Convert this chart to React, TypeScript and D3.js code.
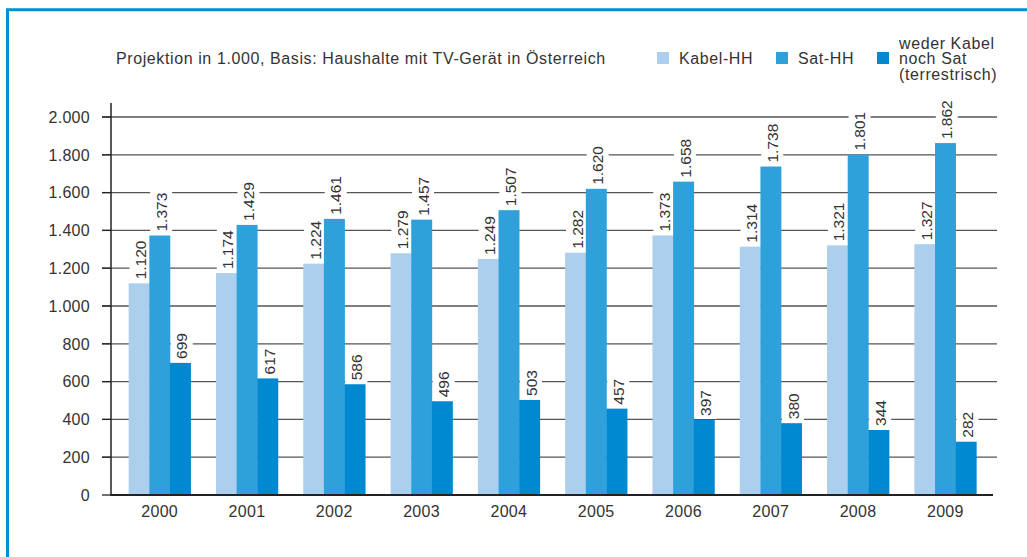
import { useEffect, useRef } from 'react';
import * as d3 from 'd3';

// Chart data
const years = ['2000', '2001', '2002', '2003', '2004', '2005', '2006', '2007', '2008', '2009'];
const kabel = [1120, 1174, 1224, 1279, 1249, 1282, 1373, 1314, 1321, 1327];
const sat = [1373, 1429, 1461, 1457, 1507, 1620, 1658, 1738, 1801, 1862];
const terrestrisch = [699, 617, 586, 496, 503, 457, 397, 380, 344, 282];
const yTicks = [0, 200, 400, 600, 800, 1000, 1200, 1400, 1600, 1800, 2000];
const seriesNames = ['Kabel-HH', 'Sat-HH', 'weder Kabel\nnoch Sat\n(terrestrisch)'];
const colors = ['#abcfec', '#2ea1db', '#0088d0'];
const title = 'Projektion in 1.000, Basis: Haushalte mit TV-Gerät in Österreich';

// German thousands separator
const fmt = (v: number) => v.toLocaleString('de-DE');

const App = () => {
  const svgRef = useRef<SVGSVGElement | null>(null);

  useEffect(() => {
    const width = 1027;
    const height = 557;
    const font = "'Liberation Sans', Arial, sans-serif";
    const textColor = '#333';

    const svg = d3.select(svgRef.current);
    svg.selectAll('*').remove();
    svg.attr('width', width).attr('height', height).style('font-family', font);

    // outer blue frame (top and left edges only visible)
    svg.append('path')
      .attr('d', `M7.5,${height} L7.5,9.75 L${width},9.75`)
      .attr('fill', 'none')
      .attr('stroke', '#0090d4')
      .attr('stroke-width', 3);

    const x0 = d3.scaleBand().domain(years).range([116, 989]).paddingInner(0.29).paddingOuter(0.145);
    const x1 = d3.scaleBand().domain(['0', '1', '2']).range([0, x0.bandwidth()]);
    const y = d3.scaleLinear().domain([0, 2000]).range([495, 117]);

    const axisLeft = 111;
    const plotRight = 997;

    // gridlines
    svg.append('g')
      .selectAll('line')
      .data(yTicks.filter(t => t > 0))
      .join('line')
      .attr('x1', 102)
      .attr('x2', plotRight)
      .attr('y1', d => y(d))
      .attr('y2', d => y(d))
      .attr('stroke', '#555')
      .attr('stroke-width', 1.3);

    const series = [kabel, sat, terrestrisch];
    const bgLayer = svg.append('g');
    const barLayer = svg.append('g');
    const labelLayer = svg.append('g');

    // bars
    barLayer.selectAll('g')
      .data(years)
      .join('g')
      .attr('transform', d => `translate(${x0(d)},0)`)
      .selectAll('rect')
      .data((_, i) => series.map((s, k) => ({ k, v: s[i] })))
      .join('rect')
      .attr('x', d => x1(String(d.k)) as number)
      .attr('width', x1.bandwidth() + 0.3)
      .attr('y', d => y(d.v))
      .attr('height', d => y(0) - y(d.v))
      .attr('fill', d => colors[d.k]);

    // value labels, rotated; white background behind bars cuts the gridlines
    years.forEach((yr, i) => {
      series.forEach((s, k) => {
        const cx = (x0(yr) as number) + (x1(String(k)) as number) + x1.bandwidth() / 2 + 1.5;
        const top = y(s[i]) - 4;
        const t = labelLayer.append('text')
          .attr('transform', `translate(${cx},${top}) rotate(-90)`)
          .attr('dy', '0.36em')
          .attr('font-size', 15.5)
          .attr('fill', textColor)
          .text(fmt(s[i]));
        const bb = (t.node() as SVGTextElement).getBBox();
        bgLayer.append('rect')
          .attr('x', cx - 11)
          .attr('y', top - bb.width - 3)
          .attr('width', 22)
          .attr('height', bb.width + 6)
          .attr('fill', 'white');
      });
    });

    // y axis line and ticks
    svg.append('line')
      .attr('x1', axisLeft).attr('x2', axisLeft)
      .attr('y1', 103).attr('y2', y(0))
      .attr('stroke', '#222').attr('stroke-width', 1.5);
    svg.append('g')
      .selectAll('line')
      .data(yTicks)
      .join('line')
      .attr('x1', 102).attr('x2', axisLeft)
      .attr('y1', d => y(d)).attr('y2', d => y(d))
      .attr('stroke', '#222').attr('stroke-width', 1.3);
    svg.append('g')
      .selectAll('text')
      .data(yTicks)
      .join('text')
      .attr('x', 90)
      .attr('y', d => y(d))
      .attr('dy', '0.36em')
      .attr('text-anchor', 'end')
      .attr('font-size', 16)
      .attr('letter-spacing', 0.3)
      .attr('fill', textColor)
      .text(d => fmt(d));

    // x axis baseline
    svg.append('line')
      .attr('x1', axisLeft - 0.75).attr('x2', plotRight - 4)
      .attr('y1', y(0)).attr('y2', y(0))
      .attr('stroke', '#222').attr('stroke-width', 2);

    // year labels
    svg.append('g')
      .selectAll('text')
      .data(years)
      .join('text')
      .attr('x', d => (x0(d) as number) + x0.bandwidth() / 2)
      .attr('y', 511)
      .attr('dy', '0.36em')
      .attr('text-anchor', 'middle')
      .attr('font-size', 16)
      .attr('letter-spacing', 0.3)
      .attr('fill', textColor)
      .text(d => d);

    // title
    svg.append('text')
      .attr('x', 116)
      .attr('y', 58)
      .attr('dy', '0.36em')
      .attr('font-size', 16)
      .attr('letter-spacing', 0.6)
      .attr('fill', textColor)
      .text(title);

    // legend
    const legendX = [657, 776, 877];
    seriesNames.forEach((name, k) => {
      svg.append('rect')
        .attr('x', legendX[k]).attr('y', 52)
        .attr('width', 12).attr('height', 12)
        .attr('fill', colors[k]);
      const lines = name.split('\n');
      const t = svg.append('text')
        .attr('font-size', 16)
        .attr('letter-spacing', 0.6)
        .attr('fill', textColor);
      lines.forEach((ln, j) => {
        t.append('tspan')
          .attr('x', legendX[k] + 22)
          .attr('y', (lines.length === 1 ? 58 : 43 + j * 15.5))
          .attr('dy', '0.36em')
          .text(ln);
      });
    });
  }, []);

  return (
    <div style={{ position: 'absolute', left: 0, top: 0 }}>
      <svg ref={svgRef}></svg>
    </div>
  );
};

export default App;
